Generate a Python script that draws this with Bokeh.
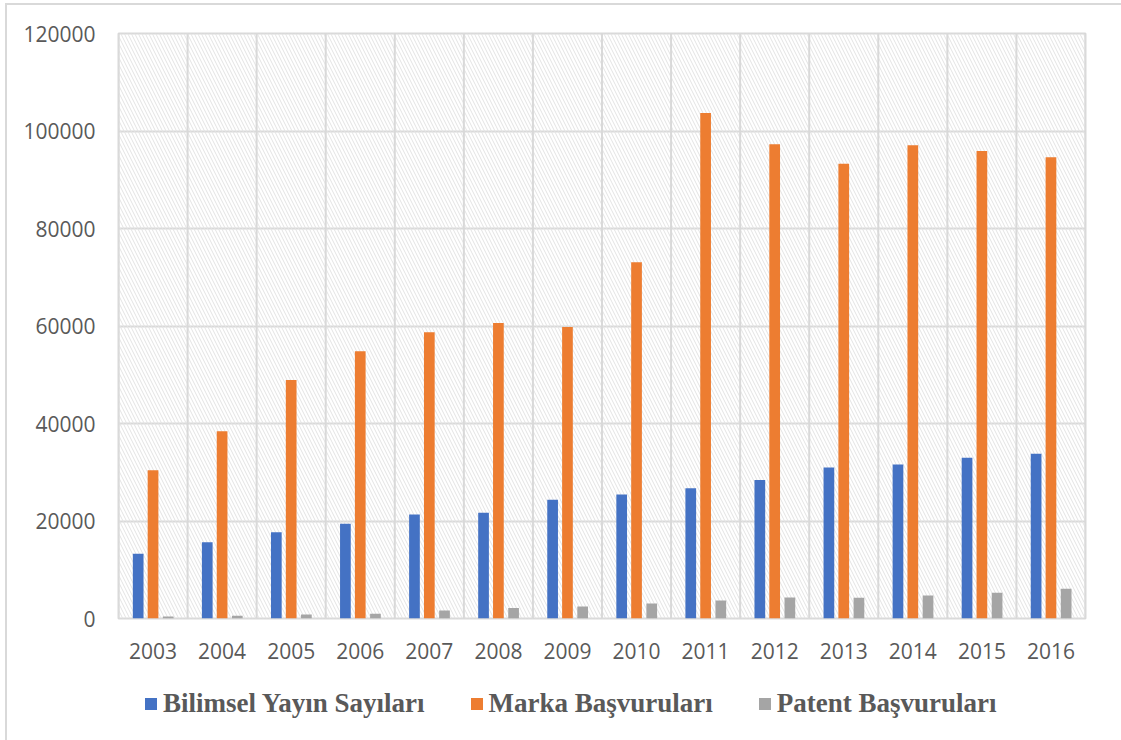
from bokeh.plotting import figure
from bokeh.layouts import column
from bokeh.models import (ColumnDataSource, FactorRange, Range1d, Span, BoxAnnotation,
                          Legend, LegendItem, FixedTicker, BasicTickFormatter, InlineStyleSheet)
from bokeh.transform import dodge
from bokeh.embed import file_html
from bokeh.resources import INLINE

years = ["2003", "2004", "2005", "2006", "2007", "2008", "2009",
         "2010", "2011", "2012", "2013", "2014", "2015", "2016"]
bilimsel = [13300, 15650, 17700, 19450, 21350, 21700, 24350,
            25450, 26700, 28400, 30950, 31600, 32950, 33800]
marka = [30400, 38400, 48900, 54800, 58700, 60600, 59800,
         73100, 103700, 97300, 93300, 97100, 95900, 94600]
patent = [420, 560, 830, 960, 1650, 2130, 2460,
          3080, 3700, 4310, 4250, 4720, 5270, 6100]
series_names = ["Bilimsel Yayın Sayıları", "Marka Başvuruları", "Patent Başvuruları"]
colors = ["#4472C4", "#ED7D31", "#A5A5A5"]
y_ticks = [0, 20000, 40000, 60000, 80000, 100000, 120000]

src = ColumnDataSource(dict(year=years, bilimsel=bilimsel, marka=marka, patent=patent))

W = 1105
p = figure(width=W, height=665, x_range=FactorRange(*years, range_padding=0),
           y_range=Range1d(0, 120000), output_backend="svg", toolbar_location=None,
           min_border_left=118, min_border_right=20, min_border_top=33,
           min_border_bottom=47)
p.x_range.factor_padding = 0
p.background_fill_color = "white"
p.border_fill_color = "white"
p.outline_line_color = "#d9d9d9"
p.outline_line_width = 2

# hatched plot area
hatch = BoxAnnotation(fill_alpha=0, line_alpha=0, hatch_pattern="\\", hatch_color="#e3e3e3",
                      hatch_scale=7, hatch_weight=1.0, level="underlay")
p.add_layout(hatch)

# vertical category boundaries
for k in range(len(years) + 1):
    p.add_layout(Span(location=k, dimension="height", line_color="#d9d9d9",
                      line_width=2, level="underlay"))

p.xgrid.grid_line_color = None
p.ygrid.grid_line_color = "#d9d9d9"
p.ygrid.grid_line_width = 2
p.yaxis.ticker = FixedTicker(ticks=y_ticks)
p.yaxis.formatter = BasicTickFormatter(use_scientific=False)

w = 0.155
r1 = p.vbar(x=dodge("year", -0.215, range=p.x_range), top="bilimsel", width=w, source=src,
            fill_color=colors[0], line_color=None)
r2 = p.vbar(x=dodge("year", 0.0, range=p.x_range), top="marka", width=w, source=src,
            fill_color=colors[1], line_color=None)
r3 = p.vbar(x=dodge("year", 0.22, range=p.x_range), top="patent", width=w, source=src,
            fill_color=colors[2], line_color=None)

for ax in (p.xaxis, p.yaxis):
    ax.axis_line_color = None
    ax.major_tick_line_color = None
    ax.minor_tick_line_color = None
    ax.major_label_text_font = "Open Sans"
    ax.major_label_text_font_size = "21px"
    ax.major_label_text_color = "#595959"
p.yaxis.major_label_standoff = 17
p.xaxis.major_label_standoff = 18

# legend strip below the chart
q = figure(width=W, height=75, x_range=Range1d(0, 1), y_range=Range1d(0, 1),
           output_backend="svg", toolbar_location=None,
           min_border_left=118, min_border_right=20, min_border_top=0, min_border_bottom=0)
q.axis.visible = False
q.grid.grid_line_color = None
q.outline_line_color = None
q.background_fill_color = "white"
q.border_fill_color = "white"
legend_src = ColumnDataSource(dict(x=[0.5], top=[0.0]))
g1 = q.vbar(x="x", top="top", bottom=0, width=0.0, source=legend_src, fill_color=colors[0], line_color=None)
g2 = q.vbar(x="x", top="top", bottom=0, width=0.0, source=legend_src, fill_color=colors[1], line_color=None)
g3 = q.vbar(x="x", top="top", bottom=0, width=0.0, source=legend_src, fill_color=colors[2], line_color=None)

legend = Legend(items=[LegendItem(label=series_names[0], renderers=[g1]),
                       LegendItem(label=series_names[1], renderers=[g2]),
                       LegendItem(label=series_names[2], renderers=[g3])],
                orientation="horizontal", location=(25, 21),
                label_text_font="Liberation Serif", label_text_font_style="bold",
                label_text_font_size="27px", label_text_color="#595959",
                glyph_width=15, glyph_height=15, label_standoff=5, spacing=44,
                padding=6, margin=0, border_line_color=None, background_fill_alpha=0)
q.add_layout(legend, "center")

layout = column(p, q, spacing=0)
frame_css = InlineStyleSheet(css=(
    ":host::after { content: ''; position: absolute; left: 5px; top: 3px; right: -16px; bottom: 0;"
    " border-left: 2px solid #d9d9d9; border-top: 2px solid #d9d9d9;"
    " pointer-events: none; z-index: 10; }"))
layout.stylesheets = [frame_css]
open("out.html", "w").write(file_html(layout, INLINE))
